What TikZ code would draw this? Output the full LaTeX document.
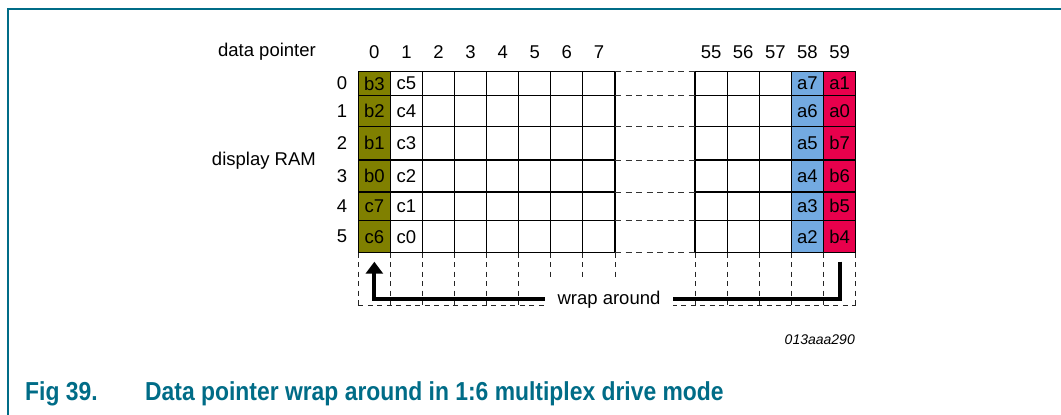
\documentclass[tikz,border=0pt]{standalone}
\usepackage{fontspec}
\setmainfont{Liberation Sans}
\usetikzlibrary{arrows.meta}
\definecolor{cellolive}{RGB}{128,128,0}
\definecolor{cellblue}{RGB}{115,170,225}
\definecolor{cellred}{RGB}{232,0,76}
\definecolor{frameteal}{RGB}{0,108,135}
\tikzset{
  cell/.style={draw=black, line width=1.1pt, minimum width=32.1pt, inner sep=0pt, outer sep=0pt, font=\fontsize{18.5}{20}\selectfont},
  lbl/.style={inner sep=0pt, font=\fontsize{18.5}{20}\selectfont},
  gapdash/.style={draw=black!80, line width=1pt, dash pattern=on 6pt off 4.5pt},
  vdash/.style={draw=black!85, line width=1pt, dash pattern=on 5pt off 4.5pt},
  wrapline/.style={line width=4pt, -{Triangle[width=17pt,length=12pt]}},
}
\begin{document}
\begin{tikzpicture}[x=1pt,y=-1pt]
\useasboundingbox (0,0) rectangle (1061,415);
% frame
\draw[frameteal, line width=2pt] (7.5,415) -- (7.5,9) -- (1061,9);
% cells
\foreach \r/\t/\b/\ca/\cb/\cc/\cd in {0/71.3/95.7/b3/c5/a7/a1,1/95.7/126.7/b2/c4/a6/a0,2/126.7/160/b1/c3/a5/b7,3/160/192/b0/c2/a4/b6,4/192/220.7/c7/c1/a3/b5,5/220.7/252.7/c6/c0/a2/b4}{
  \pgfmathsetmacro\h{\b-\t}
  \pgfmathsetmacro\ym{(\t+\b)/2}
  \foreach \c in {2,...,7}{
    \node[cell, minimum height=\h pt] (cell-\r-\c) at ({358.3+(\c+0.5)*32.09},\ym) {};
  }
  \foreach \c in {55,56,57}{
    \node[cell, minimum height=\h pt] (cell-\r-\c) at ({695+(\c-55+0.5)*32.14},\ym) {};
  }
  \node[cell, minimum height=\h pt, fill=cellolive] (cell-\r-0) at ({358.3+0.5*32.09},\ym) {\ca};
  \node[cell, minimum height=\h pt] (cell-\r-1) at ({358.3+1.5*32.09},\ym) {\cb};
  \node[cell, minimum height=\h pt, fill=cellblue] (cell-\r-58) at ({695+3.5*32.14},\ym) {\cc};
  \node[cell, minimum height=\h pt, fill=cellred] (cell-\r-59) at ({695+4.5*32.14},\ym) {\cd};
  \node[lbl] (row-\r) at (342,\ym) {\r};
  \draw[gapdash] (cell-\r-7.north east) -- (cell-\r-55.north west);
}
\draw[gapdash] (cell-5-7.south east) -- (cell-5-55.south west);
% column headers
\foreach \c in {0,...,7}{
  \node[lbl] (col-\c) at ({358.3+(\c+0.5)*32.09},52) {\c};
}
\foreach \c in {55,...,59}{
  \node[lbl] (col-\c) at ({695+(\c-55+0.5)*32.14},52) {\c};
}
\node[lbl, anchor=east] (dp) at (316,52) {data pointer};
\node[lbl, anchor=east] (dram) at (316,161) {display RAM};
% dashed area below
\foreach \c in {0,...,7,55,56,57,58,59}{
  \draw[vdash] (cell-5-\c.south west) -- ++(0,52.3);
}
\draw[vdash] (cell-5-7.south east) -- ++(0,52.3);
\draw[vdash] (cell-5-59.south east) -- ++(0,52.3);
\draw[vdash] ([yshift=-52.3pt]cell-5-0.south west) coordinate (bl) -- ([yshift=-52.3pt]cell-5-59.south east) coordinate (br);
% wrap around arrow
\coordinate (ws) at ([yshift=-9pt]cell-5-59.south);
\coordinate (we) at ([yshift=-9pt]cell-5-0.south);
\coordinate (wsb) at ([yshift=-46.3pt]cell-5-59.south);
\coordinate (web) at ([yshift=-46.3pt]cell-5-0.south);
\draw[wrapline] (ws) -- (wsb) -- (web) -- (we);
\node[fill=white, minimum width=128pt, minimum height=42pt, inner sep=0pt, font=\fontsize{18.5}{20}\selectfont] (wrap) at (609,300) {wrap around};
% id
\node[anchor=east, inner sep=0pt, font=\fontsize{14}{16}\selectfont\itshape] (fid) at (855,340) {013aaa290};
% caption
\node[anchor=west, inner sep=0pt, text=frameteal, font=\fontsize{26}{28}\selectfont\bfseries] (cap) at (25,394) {\scalebox{0.88}[1]{Fig 39.\hspace{54pt}Data pointer wrap around in 1:6 multiplex drive mode}};
\end{tikzpicture}
\end{document}
